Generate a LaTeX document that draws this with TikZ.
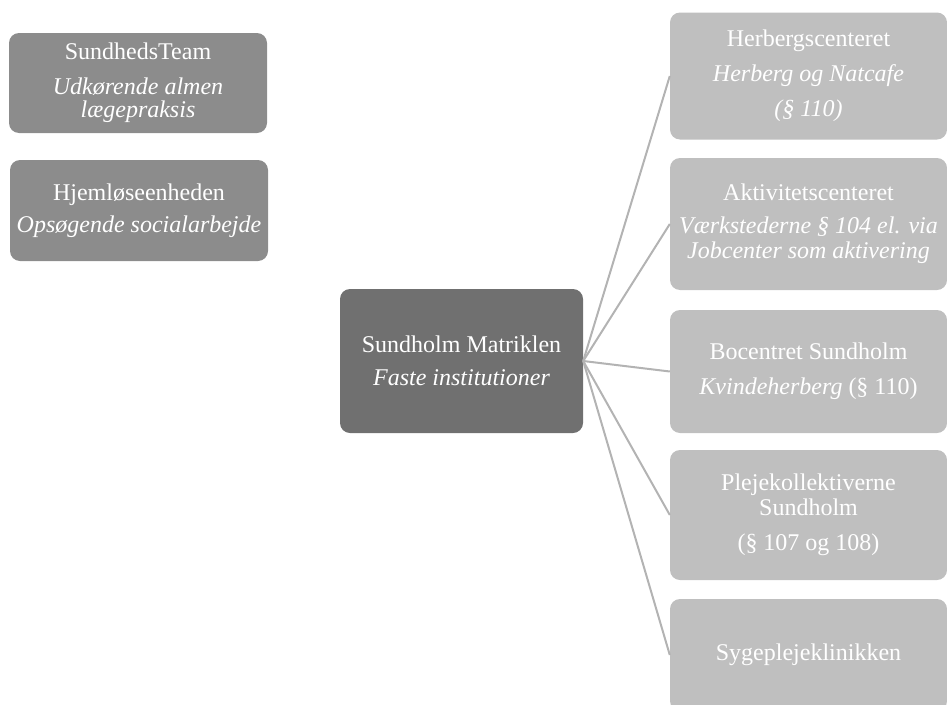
\documentclass[tikz,border=0pt]{standalone}
\usepackage{fontspec}
\setmainfont{Liberation Serif}
\definecolor{leftgray}{HTML}{8C8C8C}
\definecolor{midgray}{HTML}{707070}
\definecolor{rightgray}{HTML}{BFBFBF}
\definecolor{linegray}{HTML}{B3B3B3}
\begin{document}
\begin{tikzpicture}[x=1pt,y=1pt,
  box/.style={rectangle, rounded corners=10pt, text=white, align=center, inner sep=0pt,
    font=\fontsize{24}{25}\selectfont},
  leftbox/.style={box, fill=leftgray, minimum width=258pt},
  centerbox/.style={box, fill=midgray, minimum width=243pt, minimum height=144pt},
  rightbox/.style={box, fill=rightgray, minimum width=277pt},
  link/.style={draw=linegray, line width=2pt}]
\clip (0,0) rectangle (947,-704);
\useasboundingbox (0,0) rectangle (947,-704);
\node[leftbox, minimum height=100pt] (st) at (138,-83) {SundhedsTeam\\[10pt]\itshape Udkørende almen\\[-2pt]\itshape lægepraksis};
\node[leftbox, minimum height=101pt] (hj) at (139,-210.5) {Hjemløseenheden\\[7pt]\itshape Opsøgende socialarbejde};
\node[centerbox] (c) at (461.5,-361) {Sundholm Matriklen\\[8pt]\itshape Faste institutioner};
\node[rightbox, minimum height=127pt] (r1) at (808.5,-76) {Herbergscenteret\\[10pt]\itshape Herberg og Natcafe\\[10pt]\itshape (§ 110)};
\node[rightbox, minimum height=132pt] (r2) at (808.5,-224) {Aktivitetscenteret\\[8pt]\itshape Værkstederne § 104 el. via\\\itshape Jobcenter som aktivering};
\node[rightbox, minimum height=123pt] (r3) at (808.5,-371.5) {Bocentret Sundholm\\[10pt]\textit{Kvindeherberg} (§ 110)};
\node[rightbox, minimum height=130pt] (r4) at (808.5,-515) {Plejekollektiverne\\Sundholm\\[10pt](§ 107 og 108)};
\node[rightbox, minimum height=112pt] (r5) at (808.5,-655) {Sygeplejeklinikken};
\foreach \r in {r1,r2,r3,r4,r5}{\draw[link] (c.east) -- (\r.west);}
\end{tikzpicture}
\end{document}
